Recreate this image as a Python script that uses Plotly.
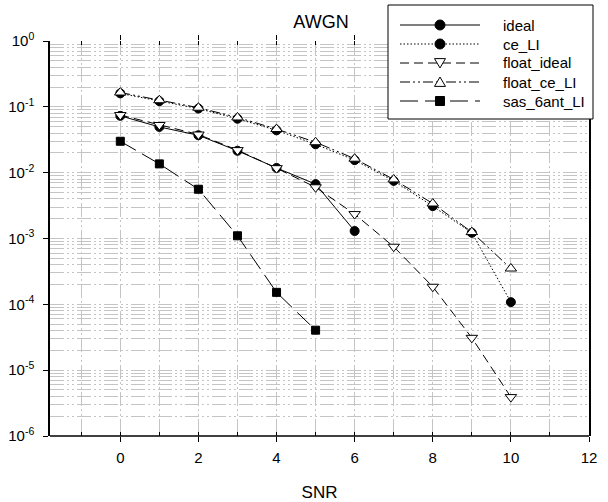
import numpy as np
import plotly.graph_objects as go

# ---- data ----
snr_ideal = [0, 1, 2, 3, 4, 5, 6]
ber_ideal = [0.073, 0.0495, 0.037, 0.0215, 0.0118, 0.0067, 0.0013]

snr_ce = [0, 1, 2, 3, 4, 5, 6, 7, 8, 9, 10]
ber_ce_LI = [0.160, 0.122, 0.094, 0.066, 0.044, 0.027, 0.0155, 0.0075, 0.0031, 0.00122, 0.000108]

snr_float_ideal = [0, 1, 2, 3, 4, 5, 6, 7, 8, 9, 10]
ber_float_ideal = [0.075, 0.053, 0.038, 0.022, 0.0117, 0.0060, 0.00235, 0.00075, 0.000185, 0.000031, 0.0000039]

snr_float_ce = [0, 1, 2, 3, 4, 5, 6, 7, 8, 9, 10]
ber_float_ce_LI = [0.165, 0.126, 0.097, 0.069, 0.046, 0.029, 0.0163, 0.0079, 0.0034, 0.00125, 0.00035]

snr_sas = [0, 1, 2, 3, 4, 5]
ber_sas_6ant_LI = [0.030, 0.0136, 0.0056, 0.0011, 0.000152, 0.0000405]

series_names = ["ideal", "ce_LI", "float_ideal", "float_ce_LI", "sas_6ant_LI"]

y_decades = [-6, -5, -4, -3, -2, -1, 0]
y_ticktext = ["10<sup>%d</sup>" % d for d in y_decades]

FONT = "Liberation Sans, Arial, sans-serif"
GRID = "#c4c4c4"
GRIDDASH = "14px,3px,2px,3px,2px,3px"

# plot area in pixels
L, R, T, B = 50, 589, 41, 436
W, H = 608, 502

styles = [
    dict(dash="solid", symbol="circle", fill="black", size=9),
    dict(dash="1.5px,2px", symbol="circle", fill="black", size=9),
    dict(dash="9px,5px", symbol="triangle-down", fill="white", size=10),
    dict(dash="10px,3px,2px,3px,2px,3px", symbol="triangle-up", fill="white", size=10),
    dict(dash="18px,7px", symbol="square", fill="black", size=8),
]
data = [
    (snr_ideal, ber_ideal),
    (snr_ce, ber_ce_LI),
    (snr_float_ideal, ber_float_ideal),
    (snr_float_ce, ber_float_ce_LI),
    (snr_sas, ber_sas_6ant_LI),
]

fig = go.Figure()
for (x, y), name, st in zip(data, series_names, styles):
    fig.add_trace(go.Scatter(
        x=x, y=y, name=name, mode="lines+markers", showlegend=False,
        line=dict(color="black", width=1, dash=st["dash"]),
        marker=dict(symbol=st["symbol"], size=st["size"], color=st["fill"],
                    line=dict(color="black", width=1)),
    ))

minor_y = [m * 10.0 ** d for d in y_decades[:-1] for m in range(2, 10)]

# ---- hand-drawn legend box (pixel -> paper coordinates) ----
def px(xp):
    return (xp - L) / (R - L)

def py(yp):
    return (B - yp) / (B - T)

shapes = [dict(type="line", xref="paper", yref="paper", x0=0, x1=1, y0=0, y1=0,
               line=dict(color="black", width=1.5), layer="above")]
annotations = []
shapes.append(dict(type="rect", xref="paper", yref="paper",
                   x0=px(388), x1=px(593), y0=py(5), y1=py(119),
                   fillcolor="white", line=dict(color="black", width=1), layer="above"))
row_y = [25, 44, 63, 82, 101]
for name, st, ry in zip(series_names, styles, row_y):
    shapes.append(dict(type="line", xref="paper", yref="paper",
                       x0=px(400), x1=px(480), y0=py(ry), y1=py(ry),
                       line=dict(color="black", width=1, dash=st["dash"]), layer="above"))
    cx, r = 440, st["size"] / 2 + 0.5
    if st["symbol"] == "circle":
        shapes.append(dict(type="circle", xref="paper", yref="paper",
                           x0=px(cx - r), x1=px(cx + r), y0=py(ry + r), y1=py(ry - r),
                           fillcolor=st["fill"], line=dict(color="black", width=1), layer="above"))
    elif st["symbol"] == "square":
        shapes.append(dict(type="rect", xref="paper", yref="paper",
                           x0=px(cx - r), x1=px(cx + r), y0=py(ry + r), y1=py(ry - r),
                           fillcolor=st["fill"], line=dict(color="black", width=1), layer="above"))
    else:
        s = 1 if st["symbol"] == "triangle-down" else -1
        pts = [(cx - r, ry - s * r * 0.8), (cx + r, ry - s * r * 0.8), (cx, ry + s * r * 0.9)]
        path = "M %f,%f L %f,%f L %f,%f Z" % tuple(v for p in pts for v in (px(p[0]), py(p[1])))
        shapes.append(dict(type="path", xref="paper", yref="paper", path=path,
                           fillcolor=st["fill"], line=dict(color="black", width=1), layer="above"))
    annotations.append(dict(text=name, xref="paper", yref="paper", x=px(501), y=py(ry),
                            xanchor="left", yanchor="middle", showarrow=False,
                            font=dict(size=15, color="black")))

fig.update_layout(
    width=W, height=H,
    margin=dict(l=L, r=W - R, t=T, b=H - B, autoexpand=False),
    paper_bgcolor="white", plot_bgcolor="white",
    font=dict(family=FONT, size=15, color="black"),
    title=dict(text="AWGN", x=321 / W, xref="container", xanchor="center",
               y=1 - 22 / H, yref="container", yanchor="middle",
               font=dict(size=18, color="black")),
    showlegend=False,
    xaxis=dict(
        range=[-1.8, 12], tick0=0, dtick=2, ticks="outside", ticklen=5,
        tickcolor="black", showline=False, mirror="ticks",
        showgrid=True, gridcolor=GRID, griddash=GRIDDASH, gridwidth=1,
        zeroline=False, ticklabelstandoff=3,
        title=dict(text="SNR", font=dict(size=17), standoff=22),
        minor=dict(dtick=1, tick0=0, ticks="inside", ticklen=4, tickcolor="black",
                   showgrid=True, gridcolor=GRID, griddash=GRIDDASH, gridwidth=1),
    ),
    yaxis=dict(
        type="log", range=[-6, 0],
        tickmode="array", tickvals=[10.0 ** d for d in y_decades], ticktext=y_ticktext,
        ticks="outside", ticklen=5, tickcolor="black",
        showline=True, linecolor="black", linewidth=1.5, mirror=True,
        showgrid=True, gridcolor=GRID, griddash=GRIDDASH, gridwidth=1,
        zeroline=False, ticklabelstandoff=6,
        minor=dict(tickmode="array", tickvals=minor_y, ticks="",
                   showgrid=True, gridcolor=GRID, griddash=GRIDDASH, gridwidth=1),
    ),
    shapes=shapes,
    annotations=annotations,
)

fig.write_html("out.html", config={"displayModeBar": False},
               post_script="document.body.style.margin='0';document.body.style.overflow='hidden';")
